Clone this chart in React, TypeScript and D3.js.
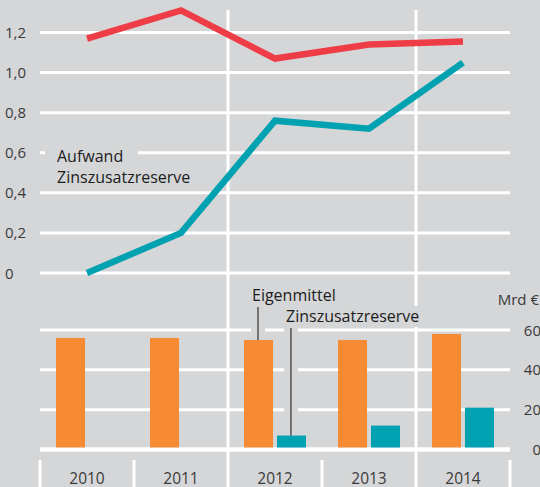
import * as React from "react";
import * as d3 from "d3";

// years on the shared x axis
const years = ["2010", "2011", "2012", "2013", "2014"];
// upper chart: two lines (in %)
const verzinsung = [1.17, 1.31, 1.07, 1.14, 1.155];
const aufwandZzr = [0, 0.2, 0.76, 0.72, 1.05];
const lineTicks = [0, 0.2, 0.4, 0.6, 0.8, 1.0, 1.2];
// lower chart: bars in Mrd €
const eigenmittel = [56, 56, 55, 55, 58];
const zinszusatzreserve = [null, null, 7, 12, 21];
const barTicks = [0, 20, 40, 60];

const W = 540;
const H = 487;
const BG = "#d5d6d8";
const RED = "#ee3d47";
const TEAL = "#00a1b1";
const ORANGE = "#f68b33";
const TXT = "#1c1c1c";
const FONT = "'Open Sans', 'Noto Sans', sans-serif";

export default function App() {
  const x = d3.scaleBand().domain(years).range([40, 510]);
  const yTop = d3.scaleLinear().domain([0, 1.2]).range([273, 32.5]);
  const yBar = d3.scaleLinear().domain([0, 60]).range([449.5, 330]);
  const xInner = d3.scaleBand().domain(["e", "z"]).range([16, 78]).paddingInner(0.12);

  const cx = (yr) => x(yr) + x.bandwidth() / 2;
  const line = d3.line<number>()
    .x((d, i) => cx(years[i]))
    .y(d => yTop(d));

  const fmt = (t) => (t === 0 ? "0" : t.toFixed(1).replace(".", ","));

  // leader line positions
  const eigX = x("2012") + xInner("e") + 14;
  const zzrX = x("2012") + xInner("z") + 14;

  return (
    <svg width={W} height={H} style={{ position: "absolute", left: 0, top: 0 }} fontFamily={FONT}>
      <rect width={W} height={H} fill={BG} />

      {/* vertical separators */}
      <g stroke="#fff" strokeWidth="3">
        <line x1={x("2012")} x2={x("2012")} y1={10} y2={H} />
        <line x1={x("2014")} x2={x("2014")} y1={10} y2={H} />
        {["2010", "2011", "2013"].map(yr => (
          <line key={yr} x1={x(yr)} x2={x(yr)} y1={460} y2={H} />
        ))}
        <line x1={510} x2={510} y1={460} y2={H} />
      </g>

      {/* upper chart grid + ticks */}
      <g>
        {lineTicks.map(t => (
          <g key={t}>
            <line x1={40} x2={510} y1={yTop(t)} y2={yTop(t)} stroke="#fff" strokeWidth="3" />
            <text x={5} y={yTop(t) + 5.5} fontSize="15" fill="#3a3a3a">{fmt(t)}</text>
          </g>
        ))}
      </g>

      {/* lower chart grid + ticks */}
      <g>
        {barTicks.map(t => (
          <g key={t}>
            <line x1={40} x2={510} y1={yBar(t)} y2={yBar(t)} stroke="#fff" strokeWidth={t === 0 ? 4.5 : 3} />
            <text x={541} y={yBar(t) + 5.5} fontSize="15" fill="#3a3a3a" textAnchor="end">{t}</text>
          </g>
        ))}
        <text x={539} y={305} fontSize="15" fill="#3a3a3a" textAnchor="end">Mrd €</text>
      </g>

      {/* label background masks */}
      <rect x={45} y={144} width={93} height={22} fill={BG} />
      <rect x={281} y={306} width={152} height={21} fill={BG} />
      <rect x={eigX - 7} y={305} width={14} height={yBar(eigenmittel[2]) - 305} fill={BG} />
      <rect x={zzrX - 7} y={327} width={14} height={yBar(zinszusatzreserve[2]) - 327} fill={BG} />

      {/* bars */}
      <g>
        {years.map((yr, i) => (
          <g key={yr} transform={`translate(${x(yr)},0)`}>
            <rect x={xInner("e")} width={xInner.bandwidth()} y={yBar(eigenmittel[i])}
              height={yBar(0) - 2 - yBar(eigenmittel[i])} fill={ORANGE} />
            {zinszusatzreserve[i] != null && (
              <rect x={xInner("z")} width={xInner.bandwidth()} y={yBar(zinszusatzreserve[i])}
                height={yBar(0) - 2 - yBar(zinszusatzreserve[i])} fill={TEAL} />
            )}
          </g>
        ))}
      </g>

      {/* leader lines */}
      <line x1={eigX} x2={eigX} y1={307} y2={yBar(eigenmittel[2])} stroke="#111" strokeWidth="1" />
      <line x1={zzrX} x2={zzrX} y1={328} y2={yBar(zinszusatzreserve[2])} stroke="#111" strokeWidth="1" />

      {/* lines */}
      <path d={line(verzinsung)} fill="none" stroke={RED} strokeWidth="6.5" />
      <path d={line(aufwandZzr)} fill="none" stroke={TEAL} strokeWidth="6.5" />

      {/* labels */}
      <g fontSize="16" fill={TXT} fontWeight="500">
        <text x={57} y={162}>Aufwand</text>
        <text x={57} y={183}>Zinszusatzreserve</text>
        <text x={252} y={301}>Eigenmittel</text>
        <text x={286} y={322}>Zinszusatzreserve</text>
      </g>

      {/* x axis years */}
      <g>
        {years.map(yr => (
          <text key={yr} x={cx(yr)} y={483.5} fontSize="15.5" fill="#3a3a3a" textAnchor="middle">{yr}</text>
        ))}
      </g>
    </svg>
  );
}
